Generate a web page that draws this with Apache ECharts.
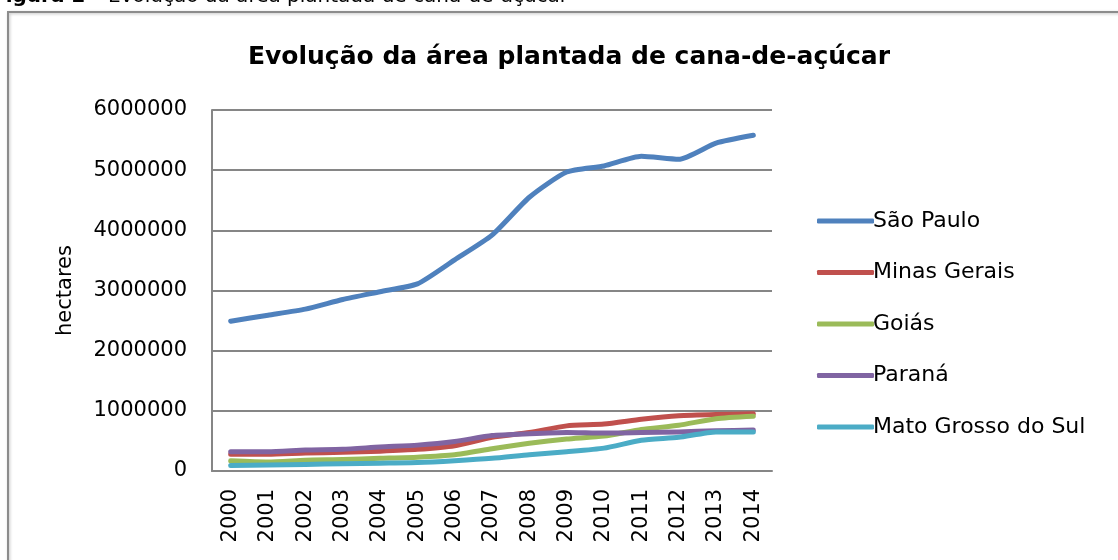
<!DOCTYPE html>
<html>
<head>
<meta charset="utf-8">
<script src="https://cdn.jsdelivr.net/npm/echarts@6/dist/echarts.min.js"></script>
<style>
html,body{margin:0;padding:0;background:#fff;}
#c{width:1118px;height:560px;}
</style>
</head>
<body>
<div id="c"></div>
<script>
var years = ['2000','2001','2002','2003','2004','2005','2006','2007','2008','2009','2010','2011','2012','2013','2014'];
var saoPaulo    = [2490000,2590000,2690000,2850000,2980000,3110000,3510000,3920000,4550000,4970000,5070000,5230000,5180000,5450000,5580000];
var minasGerais = [280000,280000,300000,310000,330000,360000,420000,560000,640000,750000,780000,860000,920000,940000,950000];
var goias       = [170000,150000,180000,190000,210000,230000,270000,370000,460000,530000,580000,690000,760000,870000,910000];
var parana      = [320000,320000,350000,360000,400000,430000,490000,590000,620000,640000,630000,640000,650000,670000,680000];
var matoGrosso  = [90000,100000,110000,120000,130000,140000,170000,210000,270000,320000,380000,510000,560000,650000,650000];
var seriesNames = ['São Paulo','Minas Gerais','Goiás','Paraná','Mato Grosso do Sul'];
var seriesColors = ['#4F81BD','#C0504D','#9BBB59','#8064A2','#4BACC6'];
var yTicks = [0,1000000,2000000,3000000,4000000,5000000,6000000];

var allData = [saoPaulo, minasGerais, goias, parana, matoGrosso];
var font = 'DejaVu Sans';

var chart = echarts.init(document.getElementById('c'), null, {renderer:'canvas'});
chart.setOption({
  backgroundColor:'#fff',
  animation:false,
  title:{
    text:'Evolução da área plantada de cana-de-açúcar',
    left:564, top:40, textAlign:'center',
    textStyle:{fontFamily:font, fontWeight:'bold', fontSize:25, color:'#000'}
  },
  graphic:[
    {type:'rect', shape:{x:8,y:12,width:1200,height:700},
     style:{fill:'none', stroke:'#8c8c8c', lineWidth:2, shadowColor:'rgba(0,0,0,0.25)', shadowBlur:3, shadowOffsetX:1, shadowOffsetY:1}, z:-1},
    {type:'text', left:-8, top:-13,
     style:{text:'{b|Figura 2} – Evolução da área plantada de cana-de-açúcar',
       fontFamily:font, fontSize:20, fill:'#000',
       rich:{b:{fontFamily:font, fontSize:20, fontWeight:'bold', fill:'#000'}}}}
  ],
  grid:{left:212, right:346, top:110, bottom:89, containLabel:false},
  legend:{
    orient:'vertical', left:812, top:203,
    icon:'roundRect', itemWidth:57, itemHeight:5, itemGap:25.5,
    textStyle:{fontFamily:font, fontSize:22, color:'#000', lineHeight:26, padding:[0,0,0,-6]},
    data:seriesNames
  },
  xAxis:{
    type:'category', data:years, boundaryGap:true,
    axisLine:{lineStyle:{color:'#868686', width:2}},
    axisTick:{show:false},
    axisLabel:{rotate:90, margin:18, fontFamily:font, fontSize:21, color:'#000', interval:0}
  },
  yAxis:{
    type:'value', min:0, max:6000000, interval:1000000,
    name:'hectares', nameLocation:'middle', nameGap:136, nameRotate:90,
    nameTextStyle:{fontFamily:font, fontSize:21, color:'#000'},
    axisLine:{show:true, lineStyle:{color:'#868686', width:2}},
    axisTick:{show:false},
    splitLine:{lineStyle:{color:'#868686', width:2}},
    axisLabel:{margin:25, fontFamily:font, fontSize:21, color:'#000', formatter:function(v){return String(v);}}
  },
  series: seriesNames.map(function(n,i){
    return {
      name:n, type:'line', data:allData[i], smooth:0.2, showSymbol:false, symbol:'none',
      lineStyle:{color:seriesColors[i], width:5, cap:'round', join:'round'},
      itemStyle:{color:seriesColors[i]}, z:2+i
    };
  })
});
</script>
</body>
</html>
